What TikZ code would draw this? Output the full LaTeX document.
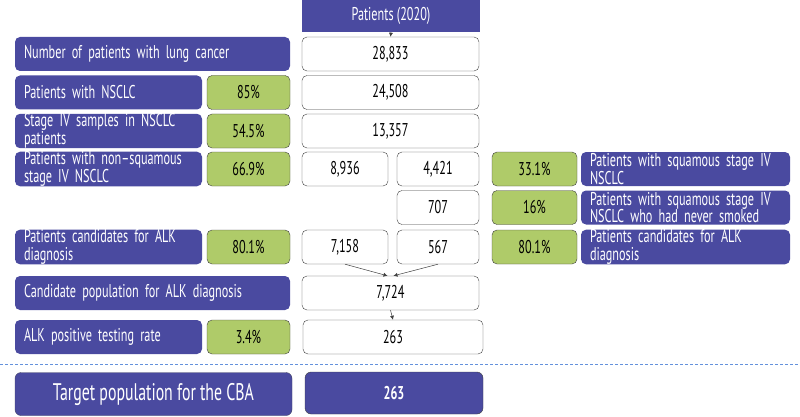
\documentclass[tikz,border=0pt]{standalone}
\usepackage{fontspec}
\setmainfont{PT Sans}[FakeStretch=0.66]
\usetikzlibrary{arrows.meta}
\definecolor{cbablue}{RGB}{74,74,160}
\definecolor{cbagreen}{RGB}{175,203,105}
\definecolor{boxline}{RGB}{64,64,64}
\definecolor{dashblue}{RGB}{100,145,220}

\begin{document}
\begin{tikzpicture}[x=1pt, y=-1pt,
    font=\fontsize{18.5}{17.5}\selectfont,
    lbl/.style={fill=cbablue, text=white, rounded corners=5pt, align=left,
      inner xsep=9pt, inner ysep=0pt, minimum height=34pt, text width=#1},
    pct/.style={fill=cbagreen, draw=boxline, rounded corners=5pt,
      minimum width=#1, minimum height=34pt, inner sep=0pt},
    num/.style={fill=white, draw=boxline, rounded corners=5pt,
      minimum width=#1, minimum height=34pt, inner sep=0pt},
    flow/.style={-{Latex[length=4pt,width=4pt]}, draw=boxline, line width=0.5pt}]
    % picture in pixel units, y growing downwards
    \useasboundingbox (0,0) rectangle (800,417);

    % Header
    \node[fill=cbablue, text=white, minimum width=178pt, minimum height=32pt, inner sep=0pt]
      (head) at (391,16) {Patients (2020)};

    % Row 1
    \node[lbl=257pt] (l1) at (152.5,54) {Number of patients with lung cancer};
    \node[num=177pt] (n1) at (390.5,54) {28,833};

    % Row 2
    \node[lbl=169pt] (l2) at (108.5,92.5) {Patients with NSCLC};
    \node[pct=83pt] (p2) at (248.5,92.5) {85\%};
    \node[num=177pt] (n2) at (390.5,92.5) {24,508};

    % Row 3
    \node[lbl=169pt] (l3) at (108.5,131) {Stage IV samples in NSCLC\\patients};
    \node[pct=83pt] (p3) at (248.5,131) {54.5\%};
    \node[num=177pt] (n3) at (390.5,131) {13,357};

    % Row 4: split into non-squamous and squamous
    \node[lbl=169pt] (l4) at (108.5,169) {Patients with \mbox{non--squamous}\\stage IV NSCLC};
    \node[pct=83pt] (p4) at (248.5,169) {66.9\%};
    \node[num=86pt] (n4a) at (345,169) {8,936};
    \node[num=82pt] (n4b) at (438,169) {4,421};
    \node[pct=85pt] (q4) at (534.5,169) {33.1\%};
    \node[lbl=191pt] (r4) at (685.5,169) {Patients with squamous stage IV\\NSCLC};

    % Row 5
    \node[num=82pt] (n5) at (438,207.5) {707};
    \node[pct=85pt] (q5) at (534.5,207.5) {16\%};
    \node[lbl=191pt] (r5) at (685.5,207.5) {Patients with squamous stage IV\\NSCLC who had never smoked};

    % Row 6
    \node[lbl=169pt] (l6) at (108.5,247) {Patients candidates for ALK\\diagnosis};
    \node[pct=83pt] (p6) at (248.5,247) {80.1\%};
    \node[num=86pt] (n6a) at (345,247) {7,158};
    \node[num=82pt] (n6b) at (438,247) {567};
    \node[pct=85pt] (q6) at (534.5,247) {80.1\%};
    \node[lbl=191pt] (r6) at (685.5,247) {Patients candidates for ALK\\diagnosis};

    % Row 7
    \node[lbl=257pt] (l7) at (152.5,293) {Candidate population for ALK diagnosis};
    \node[num=177pt] (n7) at (390.5,293) {7,724};

    % Row 8
    \node[lbl=169pt] (l8) at (108.5,337) {ALK positive testing rate};
    \node[pct=83pt] (p8) at (248.5,337) {3.4\%};
    \node[num=180pt] (n8) at (393,337) {263};

    % Separator
    \coordinate (sepl) at (0,364);
    \coordinate (sepr) at (800,364);
    \draw[dashblue, dash pattern=on 3pt off 2pt] (sepl) -- (sepr);

    % Target population
    \node[fill=cbablue, draw=boxline!60!cbablue, text=white, rounded corners=6pt,
      minimum width=277pt, minimum height=43pt, inner sep=0pt, font=\fontsize{24}{26}\selectfont]
      (l9) at (153.5,394) {Target population for the CBA};
    \node[fill=cbablue, draw=boxline, text=white, rounded corners=6pt,
      minimum width=178pt, minimum height=42pt, inner sep=0pt, font=\fontsize{18.5}{20}\selectfont\bfseries]
      (n9) at (394,393) {263};

    % Connectors
    \draw[flow] (head.south) -- (n1.north);
    \draw[flow] (n6a.south) -- ([xshift=-3pt]n7.north);
    \draw[flow] (n6b.south) -- ([xshift=3pt]n7.north);
    \draw[flow] (n7.south) -- (n8.north);
\end{tikzpicture}
\end{document}
